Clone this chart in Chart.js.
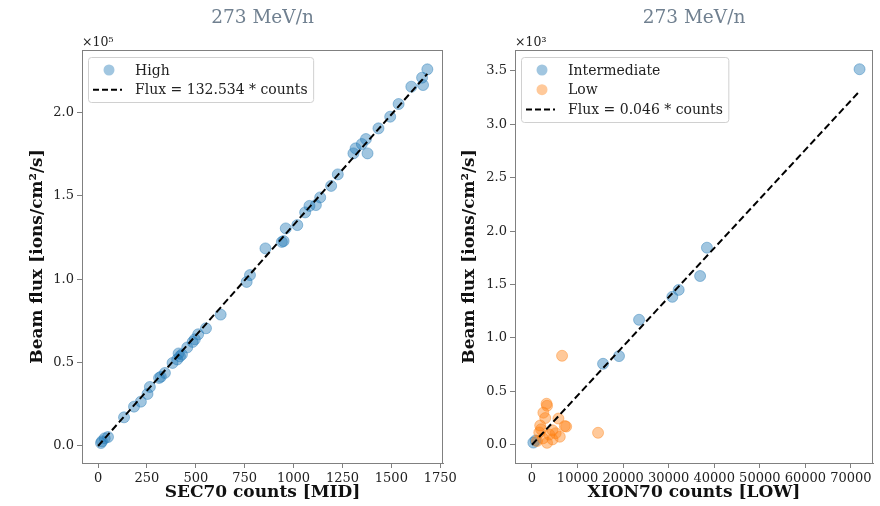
<!DOCTYPE html>
<html>
<head>
<meta charset="utf-8">
<script src="https://cdn.jsdelivr.net/npm/chart.js@4"></script>
<style>
  html, body { margin: 0; padding: 0; background: #fff; }
  #wrap { position: relative; width: 880px; height: 506px; overflow: hidden; }
  canvas { position: absolute; top: 0; }
  #leftChart { left: 0; }
  #rightChart { left: 445px; }
</style>
</head>
<body>
<div id="wrap">
  <canvas id="leftChart" width="465" height="506" style="width:465px;height:506px"></canvas>
  <canvas id="rightChart" width="435" height="506" style="width:435px;height:506px"></canvas>
</div>
<script>
// Left panel: SEC70 counts vs beam flux (High)
const highCounts = [15, 20, 34, 51, 133, 184, 219, 253, 265, 312, 321, 342, 381, 405, 412, 419, 429, 456, 484, 495, 512, 552, 627, 760, 777, 856, 940, 949, 960, 1019, 1059, 1081, 1114, 1136, 1192, 1226, 1306, 1317, 1349, 1370, 1378, 1434, 1494, 1537, 1602, 1657, 1662, 1684];
const highFlux = [1800, 2800, 4600, 5400, 17200, 23600, 26600, 31200, 35400, 40800, 41500, 43800, 49800, 51900, 55500, 53800, 54900, 59100, 62400, 64000, 67000, 70600, 78800, 98400, 102500, 118500, 122400, 122900, 130500, 132500, 140100, 144000, 144500, 149100, 156000, 162900, 175500, 178500, 181100, 184100, 175500, 190500, 197500, 205100, 215500, 220900, 216500, 225900];
const highFitCounts = [0, 1684];
const highFitFlux = [0, 223200];

// Right panel: XION70 counts vs beam flux (Intermediate / Low)
const interCounts = [300, 800, 15600, 19100, 23500, 30800, 32200, 36900, 38400, 71900];
const interFlux = [20, 40, 758, 830, 1170, 1385, 1450, 1580, 1845, 3516];
const lowCounts = [6600, 3300, 3200, 2500, 2900, 5800, 1800, 2000, 1600, 7200, 7500, 4500, 5200, 3800, 6100, 4500, 3300, 14500, 1100, 2400];
const lowFlux = [833, 365, 384, 300, 250, 245, 180, 145, 115, 175, 170, 135, 108, 95, 75, 50, 18, 112, 35, 60];
const lowFitCounts = [0, 71900];
const lowFitFlux = [0, 3310];

// Tick positions
const leftXTicks = [0, 250, 500, 750, 1000, 1250, 1500, 1750];
const leftYTicks = [0, 50000, 100000, 150000, 200000];
const rightXTicks = [0, 10000, 20000, 30000, 40000, 50000, 60000, 70000];
const rightYTicks = [0, 500, 1000, 1500, 2000, 2500, 3000, 3500];

const SERIF = '"DejaVu Serif", serif';
const SPINE = '#808080';
const BLUE = 'rgba(31, 119, 180, 0.42)';
const ORANGE = 'rgba(255, 127, 14, 0.42)';

function toPoints(xs, ys) {
    return xs.map((x, i) => ({ x: x, y: ys[i] }));
}

// Frame, title, offset text and legend drawn on top of the chart area
function decorPlugin(cfg) {
    return {
        id: 'decor',
        afterDraw(chart) {
            const { ctx, chartArea: a } = chart;
            ctx.save();

            ctx.strokeStyle = SPINE;
            ctx.lineWidth = 1;
            ctx.strokeRect(a.left + 0.5, a.top + 0.5, a.right - a.left - 1, a.bottom - a.top);

            ctx.fillStyle = '#708090';
            ctx.font = '18.5px ' + SERIF;
            ctx.textAlign = 'center';
            ctx.textBaseline = 'middle';
            ctx.fillText(cfg.title, (a.left + a.right) / 2, 18);

            ctx.fillStyle = '#222';
            ctx.font = '12.5px ' + SERIF;
            ctx.textAlign = 'left';
            ctx.textBaseline = 'bottom';
            ctx.fillText(cfg.offset, a.left, a.top - 1);

            // legend
            ctx.font = '14px ' + SERIF;
            const textX = a.left + 53;
            let w = 0;
            cfg.legend.forEach(item => { w = Math.max(w, ctx.measureText(item.label).width); });
            const bx = a.left + 6.5, by = a.top + 7.5;
            const bw = textX + w + 6 - bx, bh = cfg.legend.length * 20 + 5;
            const r = 3;
            ctx.beginPath();
            ctx.moveTo(bx + r, by);
            ctx.lineTo(bx + bw - r, by);
            ctx.quadraticCurveTo(bx + bw, by, bx + bw, by + r);
            ctx.lineTo(bx + bw, by + bh - r);
            ctx.quadraticCurveTo(bx + bw, by + bh, bx + bw - r, by + bh);
            ctx.lineTo(bx + r, by + bh);
            ctx.quadraticCurveTo(bx, by + bh, bx, by + bh - r);
            ctx.lineTo(bx, by + r);
            ctx.quadraticCurveTo(bx, by, bx + r, by);
            ctx.closePath();
            ctx.fillStyle = 'rgba(255,255,255,0.8)';
            ctx.fill();
            ctx.strokeStyle = '#d0d0d0';
            ctx.stroke();

            cfg.legend.forEach((item, i) => {
                const yy = a.top + 20 + i * 19.7;
                if (item.kind === 'dot') {
                    ctx.beginPath();
                    ctx.arc(a.left + 27, yy, 5.5, 0, Math.PI * 2);
                    ctx.fillStyle = item.color;
                    ctx.fill();
                } else {
                    ctx.beginPath();
                    ctx.setLineDash([6, 3]);
                    ctx.strokeStyle = '#000';
                    ctx.lineWidth = 2;
                    ctx.moveTo(a.left + 11, yy);
                    ctx.lineTo(a.left + 40, yy);
                    ctx.stroke();
                    ctx.setLineDash([]);
                    ctx.lineWidth = 1;
                }
                ctx.fillStyle = '#222';
                ctx.textBaseline = 'middle';
                ctx.fillText(item.label, textX, yy + 1);
            });

            ctx.restore();
        }
    };
}

function axisOptions(o) {
    return {
        type: 'linear',
        min: o.min,
        max: o.max,
        afterFit: o.fit,
        afterBuildTicks: s => { s.ticks = o.ticks.map(v => ({ value: v })); },
        ticks: {
            autoSkip: false,
            maxRotation: 0,
            padding: 3,
            color: '#222',
            font: { family: SERIF, size: 13 },
            callback: o.label
        },
        grid: { drawOnChartArea: false, tickLength: 5, color: SPINE, tickColor: SPINE },
        border: { color: SPINE },
        title: {
            display: true,
            text: o.title,
            color: '#111',
            font: { family: SERIF, size: 17, weight: 'bold' },
            padding: o.titlePad
        }
    };
}

function fitDataset(xs, ys) {
    return {
        type: 'line',
        data: toPoints(xs, ys),
        borderColor: '#000',
        borderWidth: 2,
        borderDash: [7, 3.5],
        pointRadius: 0,
        fill: false,
        order: 0
    };
}

function dotDataset(xs, ys, color, order) {
    return {
        data: toPoints(xs, ys),
        backgroundColor: color,
        borderColor: color,
        borderWidth: 1,
        pointRadius: 5.5,
        order: order
    };
}

new Chart(document.getElementById('leftChart'), {
    type: 'scatter',
    data: {
        datasets: [
            dotDataset(highCounts, highFlux, BLUE, 2),
            fitDataset(highFitCounts, highFitFlux)
        ]
    },
    options: {
        responsive: false,
        animation: false,
        layout: { padding: { left: 0, right: 22, top: 50, bottom: 0 } },
        plugins: { legend: { display: false }, tooltip: { enabled: false } },
        scales: {
            x: axisOptions({
                min: -82, max: 1764, ticks: leftXTicks,
                fit: s => { s.height = 43; },
                label: v => String(v),
                title: 'SEC70 counts [MID]',
                titlePad: { top: 0, bottom: 3 }
            }),
            y: axisOptions({
                min: -10200, max: 237500, ticks: leftYTicks,
                fit: s => { s.width = 82; },
                label: v => (v / 1e5).toFixed(1),
                title: 'Beam flux [ions/cm\u00b2/s]',
                titlePad: { top: 27, bottom: 0 }
            })
        }
    },
    plugins: [decorPlugin({
        title: '273 MeV/n',
        offset: '\u00d710\u2075',
        legend: [
            { kind: 'dot', color: BLUE, label: 'High' },
            { kind: 'dash', label: 'Flux = 132.534 * counts' }
        ]
    })]
});

new Chart(document.getElementById('rightChart'), {
    type: 'scatter',
    data: {
        datasets: [
            dotDataset(interCounts, interFlux, BLUE, 2),
            dotDataset(lowCounts, lowFlux, ORANGE, 1),
            fitDataset(lowFitCounts, lowFitFlux)
        ]
    },
    options: {
        responsive: false,
        animation: false,
        layout: { padding: { left: 0, right: 7, top: 50, bottom: 0 } },
        plugins: { legend: { display: false }, tooltip: { enabled: false } },
        scales: {
            x: axisOptions({
                min: -3730, max: 74850, ticks: rightXTicks,
                fit: s => { s.height = 43; },
                label: v => String(v),
                title: 'XION70 counts [LOW]',
                titlePad: { top: 0, bottom: 3 }
            }),
            y: axisOptions({
                min: -171, max: 3696, ticks: rightYTicks,
                fit: s => { s.width = 70; },
                label: v => (v / 1e3).toFixed(1),
                title: 'Beam flux [ions/cm\u00b2/s]',
                titlePad: { top: 14, bottom: 0 }
            })
        }
    },
    plugins: [decorPlugin({
        title: '273 MeV/n',
        offset: '\u00d710\u00b3',
        legend: [
            { kind: 'dot', color: BLUE, label: 'Intermediate' },
            { kind: 'dot', color: ORANGE, label: 'Low' },
            { kind: 'dash', label: 'Flux = 0.046 * counts' }
        ]
    })]
});
</script>
</body>
</html>
